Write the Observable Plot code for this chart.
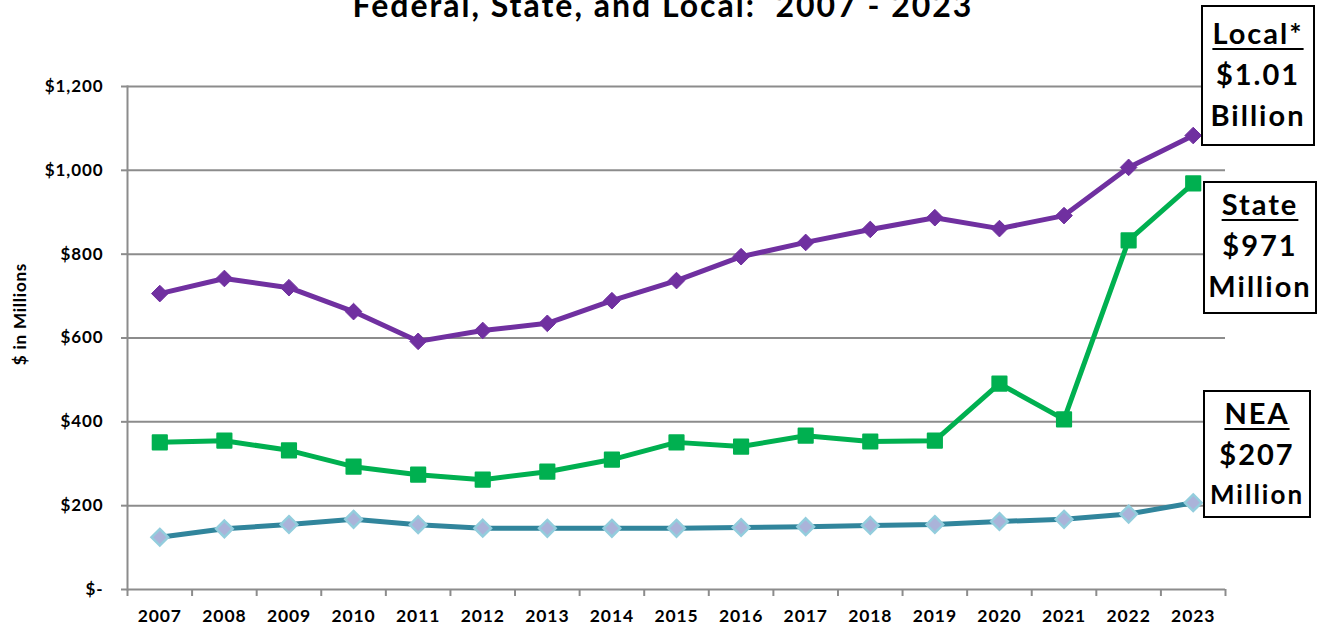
<!DOCTYPE html>
<html>
<head>
<meta charset="utf-8">
<script src="https://cdn.jsdelivr.net/npm/d3@7"></script>
<script src="https://cdn.jsdelivr.net/npm/@observablehq/plot@0.6"></script>
<style>
  html, body { margin: 0; padding: 0; background: #fff; overflow: hidden; }
  #wrap { position: relative; width: 1320px; height: 628px; font-family: Lato, "Open Sans", sans-serif; }
  #title { position: absolute; left: 0; width: 1326px; top: -10px; text-align: center; font-size: 32px; letter-spacing: 2px; font-weight: 700; line-height: 30px; color: #000; white-space: pre; }
  #ylab { position: absolute; left: 19px; top: 314px; transform: translate(-50%, -50%) rotate(-90deg); font-size: 17px; letter-spacing: 0.8px; font-weight: 700; white-space: nowrap; }
  .box { position: absolute; border: 2px solid #000; background: #fff; text-align: center; font-weight: 700; color: #000; box-sizing: border-box; }
  .box div { line-height: 41px; font-size: 29px; letter-spacing: 2px; }
  .box .u { text-decoration: underline; text-decoration-thickness: 2px; text-underline-offset: 4px; }
  #chart { position: absolute; left: 0; top: 0; }
  #chart svg text { letter-spacing: 0.9px; }
</style>
</head>
<body>
<div id="wrap">
  <div id="chart"></div>
  <div id="title"></div>
  <div id="ylab"></div>
  <div id="boxes"></div>
</div>
<script>
const title = "Federal, State, and Local:  2007 - 2023";
const yAxisLabel = "$ in Millions";
const years = [2007, 2008, 2009, 2010, 2011, 2012, 2013, 2014, 2015, 2016, 2017, 2018, 2019, 2020, 2021, 2022, 2023];
const localValues = [706, 742, 720, 663, 592, 618, 635, 689, 737, 794, 828, 859, 887, 861, 892, 1007, 1083];
const stateValues = [351, 355, 332, 293, 274, 262, 281, 310, 351, 341, 367, 353, 355, 491, 406, 833, 969];
const neaValues = [124.6, 144.7, 155, 167.5, 154.7, 146.3, 146, 146, 146, 147.9, 149.8, 152.8, 155, 162.3, 167.5, 180, 207];
const yTicks = [0, 200, 400, 600, 800, 1000, 1200];
const boxLabels = [
  {lines: ["Local*", "$1.01", "Billion"], left: 1201, top: 5, width: 114, height: 141, padTop: 5, sizes: [29, 29, 29]},
  {lines: ["State", "$971", "Million"], left: 1203, top: 181, width: 114, height: 133, padTop: 0, sizes: [29, 29, 29]},
  {lines: ["NEA", "$207", "Million"], left: 1203, top: 390, width: 108, height: 128, padTop: 0, sizes: [29, 29, 26]}
];

document.getElementById("title").textContent = title;
document.getElementById("ylab").textContent = yAxisLabel;
const boxesEl = document.getElementById("boxes");
for (const b of boxLabels) {
  const d = document.createElement("div");
  d.className = "box";
  Object.assign(d.style, {left: b.left + "px", top: b.top + "px", width: b.width + "px", height: b.height + "px", paddingTop: b.padTop + "px"});
  b.lines.forEach((t, i) => {
    const l = document.createElement("div");
    l.style.fontSize = b.sizes[i] + "px";
    if (i === 0) {
      const s = document.createElement("span");
      s.className = "u";
      s.textContent = t;
      l.appendChild(s);
    } else {
      l.textContent = t;
    }
    d.appendChild(l);
  });
  boxesEl.appendChild(d);
}

const local = years.map((y, i) => ({year: y, value: localValues[i]}));
const state = years.map((y, i) => ({year: y, value: stateValues[i]}));
const nea = years.map((y, i) => ({year: y, value: neaValues[i]}));
const boundaries = years.map(y => y - 0.5).concat([years[years.length - 1] + 0.5]);
const gridColor = "#8c8c8c";

const chart = Plot.plot({
  width: 1320,
  height: 628,
  marginLeft: 127,
  marginRight: 95,
  marginTop: 86,
  marginBottom: 39,
  style: {fontFamily: "Lato, 'Open Sans', sans-serif", fontWeight: 700, fontSize: "17px", color: "#000", background: "transparent"},
  x: {domain: [boundaries[0], boundaries[boundaries.length - 1]]},
  y: {domain: [0, 1200]},
  marks: [
    Plot.ruleY(yTicks.filter(d => d > 0), {stroke: gridColor, strokeWidth: 2}),
    Plot.ruleY([0], {stroke: gridColor, strokeWidth: 2}),
    Plot.frame({anchor: "left", stroke: gridColor, strokeWidth: 2}),
    Plot.axisY(yTicks, {tickSize: 6, tickPadding: 18, stroke: gridColor, strokeWidth: 2, label: null,
      tickFormat: d => d === 0 ? "$-" : "$" + d3.format(",")(d), fontSize: 17, fill: "#000"}),
    Plot.axisX(boundaries, {tickSize: 7, stroke: gridColor, strokeWidth: 2, tickFormat: () => "", label: null}),
    Plot.axisX(years, {tickSize: 0, tickPadding: 20, tickFormat: d => String(d), label: null, fontSize: 17.5, fill: "#000"}),
    Plot.line(nea, {x: "year", y: "value", stroke: "#31859c", strokeWidth: 5}),
    Plot.dot(nea, {x: "year", y: "value", symbol: "diamond2", r: 7.5, fill: "#aab3d9", stroke: "#93cddd", strokeWidth: 2.5}),
    Plot.line(state, {x: "year", y: "value", stroke: "#00b050", strokeWidth: 5}),
    Plot.dot(state, {x: "year", y: "value", symbol: "square", r: 8, fill: "#00b050", stroke: "#00b050", strokeWidth: 2, strokeLinejoin: "round"}),
    Plot.line(local, {x: "year", y: "value", stroke: "#7030a0", strokeWidth: 5}),
    Plot.dot(local, {x: "year", y: "value", symbol: "diamond2", r: 7.5, fill: "#7030a0", stroke: "#7030a0", strokeWidth: 1})
  ]
});
document.getElementById("chart").appendChild(chart);
</script>
</body>
</html>
